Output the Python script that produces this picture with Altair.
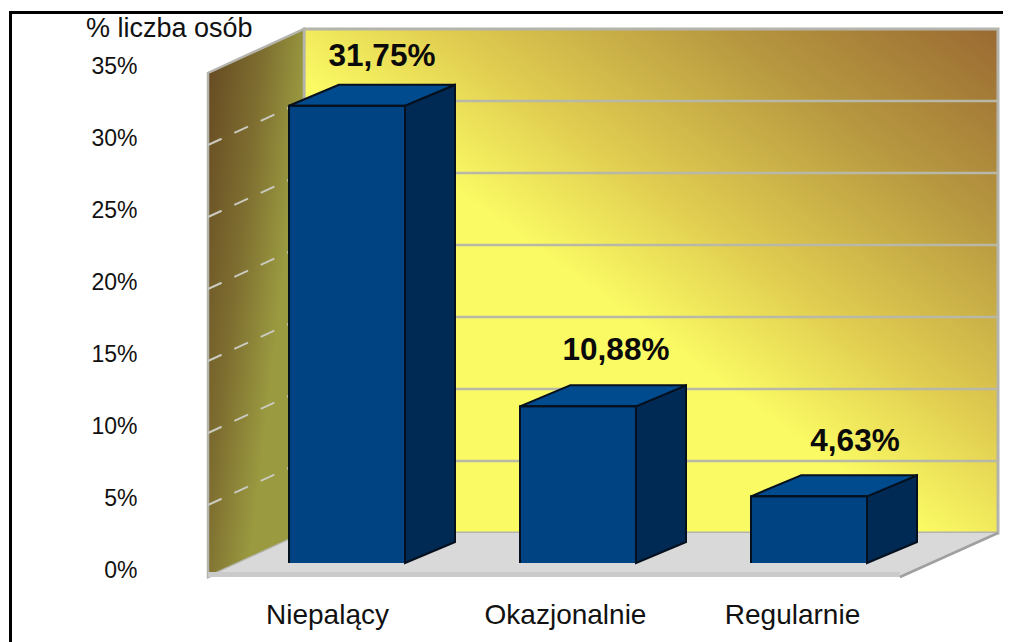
import altair as alt
import pandas as pd

categories = ["Niepalący", "Okazjonalnie", "Regularnie"]
values = [31.75, 10.88, 4.63]
value_labels = ["31,75%", "10,88%", "4,63%"]
bar_left = [289, 520, 751]
bar_width = 116
cat_label_x = [327, 565, 792]
value_label_x = [382, 616, 855]
value_label_v = [35.13, 14.73, 8.38]
ticks = [0, 5, 10, 15, 20, 25, 30, 35]
y_title = "% liczba osób"

# layout in the chart's own x units and percent units
X_DOMAIN = [8, 1003]
V_DOMAIN = [-5.486, 38.54]
WALL_LEFT, WALL_RIGHT, FLOOR_RIGHT, WALL_BACK = 208, 998, 900, 304
V_FRONT, V_BACK, V_TOP = -0.972, 2.083, 35
BAR_DX, BAR_DV = 50, 1.458

xs = alt.Scale(domain=X_DOMAIN, nice=False, zero=False)
ys = alt.Scale(domain=V_DOMAIN, nice=False, zero=False)

idx = str(cat_label_x)
names = str(categories)
x_axis = alt.Axis(
    title=None, values=cat_label_x, labelExpr=f"{names}[indexof({idx}, datum.value)]",
    domain=False, ticks=False, grid=False, labelFont="Liberation Sans", labelFontSize=28,
    labelColor="#111111", offset=-41, labelPadding=0, labelFlush=False, labelOverlap=False,
    labelBaseline="top", labelLimit=400,
)
y_axis = alt.Axis(
    title=None, values=ticks, labelExpr="datum.value + '%'", domain=False, ticks=False, grid=False,
    labelFont="Liberation Sans", labelFontSize=23, labelColor="#111111", offset=-129, labelPadding=0,
    labelFlush=False, labelOverlap=False, labelOffset=7.5, labelAlign="right", labelBaseline="middle",
)

X = lambda f="x": alt.X(f"{f}:Q", scale=xs, axis=x_axis, stack=None)
Y = lambda f="v": alt.Y(f"{f}:Q", scale=ys, axis=y_axis, stack=None)
X2 = lambda f="x2": alt.X2(f"{f}:Q")
Y2 = lambda f="v2": alt.Y2(f"{f}:Q")

back_grad = alt.Gradient(
    gradient="linear", x1=0, y1=1, x2=1, y2=0,
    stops=[
        alt.GradientStop(offset=0, color="#FAFA64"),
        alt.GradientStop(offset=0.45, color="#FAFA64"),
        alt.GradientStop(offset=0.6, color="#E0CC50"),
        alt.GradientStop(offset=0.8, color="#B79840"),
        alt.GradientStop(offset=1, color="#9A6A32"),
    ],
)
wall_grad = alt.Gradient(
    gradient="linear", x1=0, y1=0, x2=0.75, y2=0.5,
    stops=[
        alt.GradientStop(offset=0, color="#654822"),
        alt.GradientStop(offset=0.55, color="#7E6E30"),
        alt.GradientStop(offset=1, color="#9A9A40"),
    ],
)

back_df = pd.DataFrame([{"x": WALL_BACK, "x2": WALL_RIGHT, "v": V_BACK, "v2": V_TOP + V_BACK}])
back = alt.Chart(back_df).mark_rect(color=back_grad, stroke="#B4B4AC", strokeWidth=3).encode(
    x=X(), x2=X2(), y=Y(), y2=Y2(),
)

grid_df = pd.DataFrame([{"x": WALL_BACK, "x2": WALL_RIGHT, "v": t + V_BACK} for t in ticks[1:-1]])
grid = alt.Chart(grid_df).mark_rule(color="#B8B8A8", strokeWidth=2.5).encode(x=X(), x2=X2(), y=Y())

wall_df = pd.DataFrame([
    {"x": WALL_LEFT, "v": V_FRONT, "v2": V_FRONT + V_TOP},
    {"x": WALL_BACK, "v": V_BACK, "v2": V_BACK + V_TOP},
])
wall = alt.Chart(wall_df).mark_area(color=wall_grad, stroke="#B4B4AC", strokeWidth=2.5).encode(
    x=X(), y=Y(), y2=Y2()
)

dash_rows = []
for t in ticks[1:-1]:
    dash_rows.append({"t": t, "x": WALL_LEFT, "v": V_FRONT + t})
    dash_rows.append({"t": t, "x": WALL_BACK, "v": V_BACK + t})
dashes = alt.Chart(pd.DataFrame(dash_rows)).mark_line(
    color="#C9C9BE", strokeWidth=2, strokeDash=[15, 14]
).encode(x=X(), y=Y(), detail="t:N")

floor_df = pd.DataFrame([
    {"x": WALL_LEFT, "x2": FLOOR_RIGHT, "v": V_FRONT},
    {"x": WALL_BACK, "x2": WALL_RIGHT, "v": V_BACK},
])
floor = alt.Chart(floor_df).mark_area(color="#D9D9D9", orient="horizontal").encode(x=X(), x2=X2(), y=Y())

front_band = alt.Chart(pd.DataFrame([{"x": WALL_LEFT, "x2": FLOOR_RIGHT, "v": V_FRONT + 0.17}])).mark_rule(
    color="#CACACA", strokeWidth=5
).encode(x=X(), x2=X2(), y=Y())

edge_df = pd.DataFrame([{"x": FLOOR_RIGHT, "v": V_FRONT}, {"x": WALL_RIGHT, "v": V_BACK}])
floor_edge = alt.Chart(edge_df).mark_line(color="#A0A0A0", strokeWidth=2.5).encode(x=X(), y=Y())

front_rows, side_rows, top_rows, outline_rows = [], [], [], []
for i, (left, val) in enumerate(zip(bar_left, values)):
    right = left + bar_width
    front_rows.append({"x": left, "x2": right, "v": 0, "v2": val})
    side_rows.append({"b": i, "x": right, "v": 0, "v2": val})
    side_rows.append({"b": i, "x": right + BAR_DX, "v": BAR_DV, "v2": val + BAR_DV})
    top_rows.append({"b": i, "x": left, "x2": right, "v": val})
    top_rows.append({"b": i, "x": left + BAR_DX, "x2": right + BAR_DX, "v": val + BAR_DV})
    for o, (px, pv) in enumerate([(left, 0), (left, val), (right, val), (right, 0)]):
        outline_rows.append({"b": i, "o": o, "x": px, "v": pv})

bar_front = alt.Chart(pd.DataFrame(front_rows)).mark_rect(color="#004383").encode(
    x=X(), x2=X2(), y=Y(), y2=Y2()
)
bar_side = alt.Chart(pd.DataFrame(side_rows)).mark_area(
    color="#002A54", stroke="#05101E", strokeWidth=2
).encode(x=X(), y=Y(), y2=Y2(), detail="b:N")
bar_top = alt.Chart(pd.DataFrame(top_rows)).mark_area(
    color="#004B8E", stroke="#05101E", strokeWidth=2, orient="horizontal"
).encode(x=X(), x2=X2(), y=Y(), detail="b:N")
bar_outline = alt.Chart(pd.DataFrame(outline_rows)).mark_line(color="#05101E", strokeWidth=2).encode(
    x=X(), y=Y(), detail="b:N", order="o:Q"
)

label_df = pd.DataFrame({"x": value_label_x, "v": value_label_v, "t": value_labels})
val_text = alt.Chart(label_df).mark_text(
    font="Liberation Sans", fontWeight="bold", fontSize=31.5, color="#0A0A0A", align="center", baseline="middle"
).encode(x=X(), y=Y(), text="t:N")

title_text = alt.Chart(pd.DataFrame([{"x": 86, "v": 37.08, "t": y_title}])).mark_text(
    font="Liberation Sans", fontSize=27, color="#111111", align="left", baseline="middle"
).encode(x=X(), y=Y(), text="t:N")

border_h = alt.Chart(pd.DataFrame([{"x": 9, "x2": 1003, "v": 38.23}])).mark_rule(
    color="black", strokeWidth=3
).encode(x=X(), x2=X2(), y=Y())
border_v = alt.Chart(pd.DataFrame([{"x": 10.5, "v": -5.486, "v2": 38.33}])).mark_rule(
    color="black", strokeWidth=3
).encode(x=X(), y=Y(), y2=Y2())

chart = alt.layer(
    back, grid, wall, dashes, floor, front_band, floor_edge,
    bar_front, bar_side, bar_top, bar_outline, val_text, title_text, border_h, border_v,
).properties(
    width=995, height=634, padding=0,
    autosize=alt.AutoSizeParams(type="none"), background="white",
).configure_view(stroke=None)

chart.save("out.html", embed_options={"renderer": "svg", "actions": False})
